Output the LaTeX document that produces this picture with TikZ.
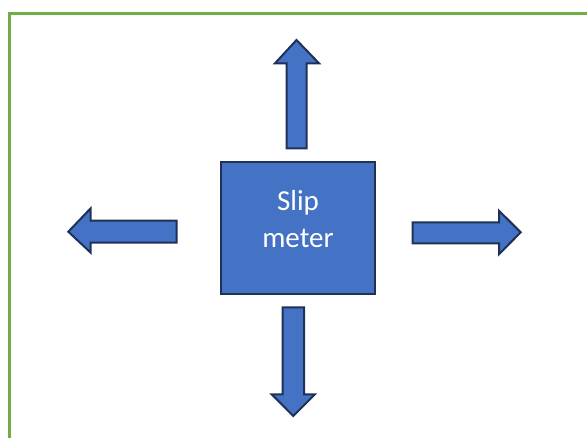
\documentclass[tikz,border=0pt]{standalone}
\usepackage{fontspec}
\setmainfont{Carlito}
\begin{document}
\begin{tikzpicture}[x=1pt,y=-1pt,
  shapefill/.style={fill=blueA,draw=navyA,line width=2pt,line join=miter},
  framebox/.style={draw=greenA,line width=2.6pt}]
\definecolor{blueA}{HTML}{4472C4}
\definecolor{navyA}{HTML}{1F3157}
\definecolor{greenA}{HTML}{70AD47}
\useasboundingbox (0,0) rectangle (587,438);
\clip (0,0) rectangle (587,438);
\draw[framebox] (9.7,13.3) rectangle (620,470);
% central box
\node[shapefill,minimum width=154pt,minimum height=132pt,inner sep=0pt] (meter) at (298,228) {};
\node[text=white,align=center,inner sep=0pt,font=\fontsize{29}{37}\selectfont] (meterlabel) at (298,219) {Slip\\meter};
% up arrow
\draw[shapefill] (286.7,148.3) -- (286.7,63.3) -- (275,63.3) -- (296.5,40) -- (319,63.3) -- (306.7,63.3) -- (306.7,148.3) -- cycle;
% down arrow
\draw[shapefill] (282.7,307.3) -- (304,307.3) -- (304,394.3) -- (315,394.3) -- (293.3,416) -- (271.7,394.3) -- (282.7,394.3) -- cycle;
% left arrow
\draw[shapefill] (176.7,220.7) -- (90.7,220.7) -- (90.7,208.3) -- (68.3,231.7) -- (90.7,252.7) -- (90.7,242.7) -- (176.7,242.7) -- cycle;
% right arrow
\draw[shapefill] (412.7,222.3) -- (499,222.3) -- (499,210.7) -- (520.7,232.3) -- (499,254.3) -- (499,243.3) -- (412.7,243.3) -- cycle;
\end{tikzpicture}
\end{document}
